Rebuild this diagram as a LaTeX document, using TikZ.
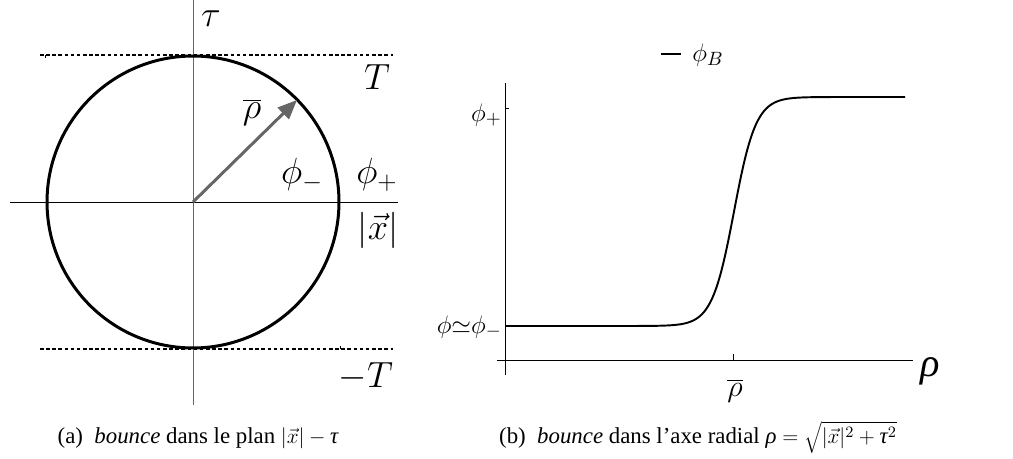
\documentclass[tikz,border=0pt]{standalone}
\usepackage{fontspec}
\setmainfont{Liberation Serif}
\usetikzlibrary{arrows.meta}
\begin{document}
\begin{tikzpicture}[x=0.02cm,y=-0.02cm,
  axis/.style={line width=0.5pt},
  dotln/.style={line width=0.6pt,dash pattern=on 2pt off 1.5pt},
  lbl/.style={inner sep=0pt,font=\fontsize{21.5}{24}\selectfont},
  rlbl/.style={inner sep=0pt,font=\fontsize{15}{18}\selectfont},
  captxt/.style={inner sep=0pt,font=\fontsize{13}{15}\selectfont}]
\useasboundingbox (0,0) rectangle (1013,459);
% ---------- left panel ----------
\coordinate (O) at (193,202);
\draw[axis,black!60] (193,0) -- (193,405);
\draw[axis] (10,202) -- (398,202);
\draw[dotln] (40,55) -- (393,55);
\draw[dotln] (40,349) -- (393,349);
\draw[line width=0.4pt] (45,55) -- (45,58);
\draw[line width=0.4pt] (340,349) -- (340,346);
\draw[line width=1.7pt] (O) circle [radius=2.92cm];
\coordinate (P) at (297,100);
\draw[line width=1.7pt,black!60,-{Triangle[length=11pt,width=9pt]}] (O) -- (P);
\node[lbl] (tau) at (211,19) {$\tau$};
\node[lbl] (T) at (377,77) {$T$};
\node[lbl] (rb) at (252,112) {$\overline{\rho}$};
\node[lbl] (pm) at (302,175) {$\phi_-$};
\node[lbl] (pp) at (377,175) {$\phi_+$};
\node[lbl] (xl) at (378,230) {$|\vec{x}|$};
\node[lbl] (mT) at (366,377) {$-T$};
\node[captxt] (ca) at (198,438) {(a)\ \ \textit{bounce} dans le plan $|\vec{x}|-\textit{τ}$};
% ---------- right panel ----------
\draw[axis] (505,83) -- (505,375);
\draw[axis] (497,360) -- (913,360);
\draw[axis] (505,108) -- (509,108);
\draw[axis] (733,360) -- (733,354);
\draw[line width=1.1pt,domain=505:905,samples=200,smooth]
  plot (\x,{211.5-114.5*tanh(max(-6,min(6,(\x-734)/22)))});
\node[rlbl,anchor=east] (yp) at (502,115) {$\phi_+$};
\node[rlbl,anchor=east] (ym) at (502,327) {$\phi{\simeq}\phi_-$};
\node[inner sep=0pt,font=\fontsize{17}{20}\selectfont] (rbar) at (735,391) {$\overline{\rho}$};
\node[inner sep=0pt,font=\fontsize{23}{26}\selectfont] (rho) at (930,371) {\textit{ρ}};
\coordinate (la) at (661,54);
\coordinate (lb) at (681,54);
\draw[line width=1pt] (la) -- (lb);
\node[rlbl] (phiB) at (708,55) {$\phi_B$};
\node[captxt] (cb) at (698,437) {(b)\ \ \textit{bounce} dans l’axe radial \textit{ρ}${}=\sqrt{|\vec{x}|^2+\textit{τ}^2}$};
\end{tikzpicture}
\end{document}
